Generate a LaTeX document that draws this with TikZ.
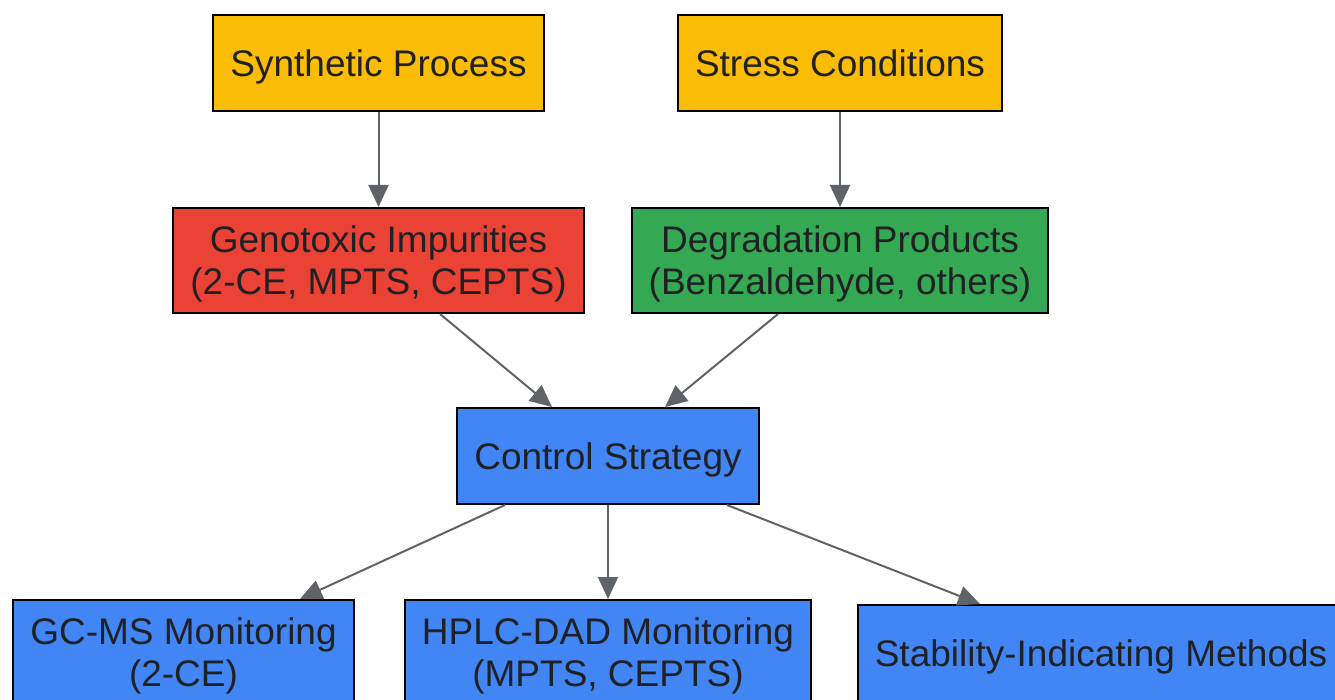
\documentclass[tikz,border=0pt]{standalone}
\usepackage{fontspec}
\setmainfont{Liberation Sans}
\usetikzlibrary{arrows.meta}
\definecolor{gyellow}{HTML}{FBBC05}
\definecolor{gred}{HTML}{EA4335}
\definecolor{ggreen}{HTML}{34A853}
\definecolor{gblue}{HTML}{4285F4}
\definecolor{edgegray}{HTML}{5F6368}
\definecolor{textgray}{HTML}{202124}
\begin{document}
\begin{tikzpicture}[x=1pt,y=-1pt]

\tikzset{
box/.style={rectangle,draw=black,line width=2pt,text=textgray,align=center,
  inner xsep=17pt,inner ysep=0pt,minimum height=96pt,text depth=-2pt},
edge/.style={draw=edgegray,line width=2pt,-{Triangle[length=22pt,width=20pt]}},
font={\fontsize{37pt}{42pt}\selectfont}
}
\useasboundingbox (0,0) rectangle (1335,700);

% vertices
\node[box,fill=gyellow] (syn)  at (378.5,63)  {Synthetic Process};
\node[box,fill=gyellow] (str)  at (840,63)    {Stress Conditions};
\node[box,fill=gred,minimum height=105pt]   (gen)  at (378.5,260.5) {Genotoxic Impurities\\(2-CE, MPTS, CEPTS)};
\node[box,fill=ggreen,minimum height=105pt] (deg)  at (840,260.5)   {Degradation Products\\(Benzaldehyde, others)};
\node[box,fill=gblue]   (ctrl) at (608,456)   {Control Strategy};
\node[box,fill=gblue,minimum height=105pt]  (gc)   at (183.5,652.5) {GC-MS Monitoring\\(2-CE)};
\node[box,fill=gblue,minimum height=105pt]  (hplc) at (608,652.5)   {HPLC-DAD Monitoring\\(MPTS, CEPTS)};
\node[box,fill=gblue]   (stab) at (1101,653)  {Stability-Indicating Methods};

%edges
\path
%   FROM                      TO
(syn)                      edge[edge] (gen)
(str)                      edge[edge] (deg)
([xshift=61.5pt]gen.south) edge[edge] ([xshift=-56pt]ctrl.north)
([xshift=-62pt]deg.south)  edge[edge] ([xshift=57pt]ctrl.north)
([xshift=-103pt]ctrl.south) edge[edge] ([xshift=116.5pt]gc.north)
(ctrl)                     edge[edge] (hplc)
([xshift=119pt]ctrl.south) edge[edge] ([xshift=-121pt]stab.north)
;

\end{tikzpicture}
\end{document}
